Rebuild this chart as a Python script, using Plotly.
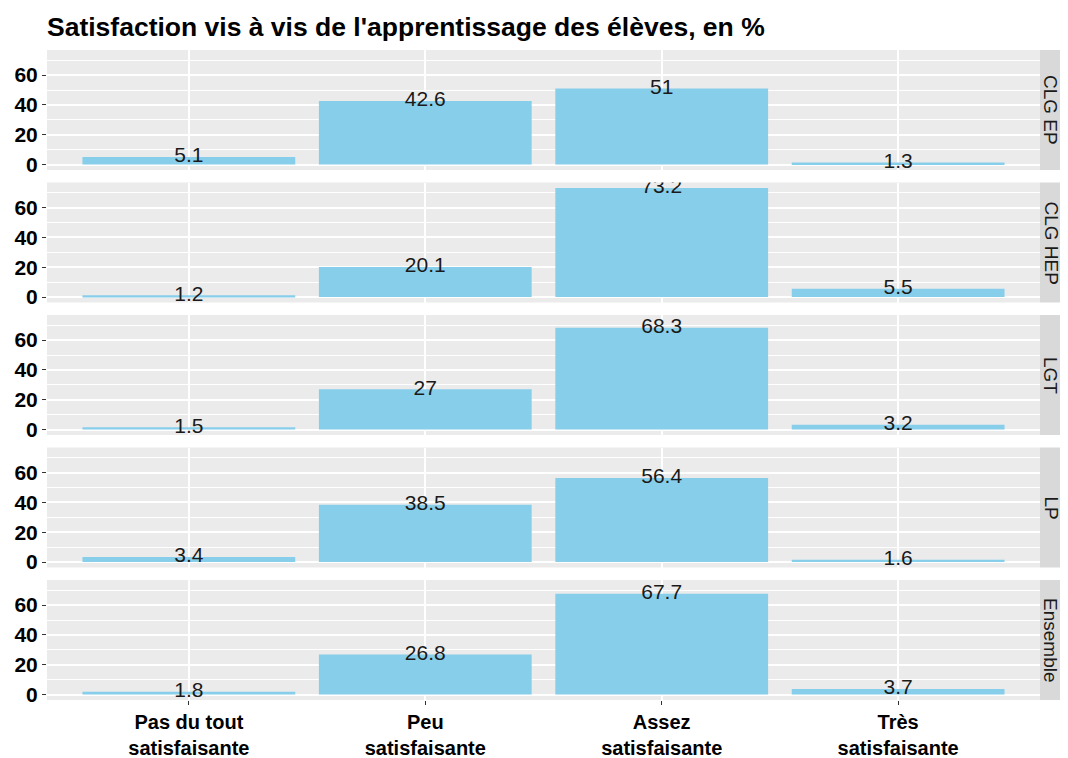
import plotly.graph_objects as go
from plotly.subplots import make_subplots

# categories and facet groups
categories = ["Pas du tout<br>satisfaisante", "Peu<br>satisfaisante",
              "Assez<br>satisfaisante", "Très<br>satisfaisante"]
groups = ["CLG EP", "CLG HEP", "LGT", "LP", "Ensemble"]

# percentages per group, in category order
clg_ep = [5.1, 42.6, 51, 1.3]
clg_hep = [1.2, 20.1, 73.2, 5.5]
lgt = [1.5, 27, 68.3, 3.2]
lp = [3.4, 38.5, 56.4, 1.6]
ensemble = [1.8, 26.8, 67.7, 3.7]

values = [clg_ep, clg_hep, lgt, lp, ensemble]

BAR = "#87CEEB"
PANEL = "#EBEBEB"
STRIP = "#D9D9D9"
FONT = "Liberation Sans"

# page body adds an 8px offset, so the figure is sized 8px smaller
W, H = 1060, 750
L, R, T, B = 39, 28, 42, 58
plot_w = W - L - R
plot_h = H - T - B

fig = make_subplots(rows=5, cols=1, shared_xaxes=True,
                    vertical_spacing=12.5 / plot_h)

ymax = max(max(v) for v in values)
pad = ymax * 0.05
yrange = [-pad, ymax + pad]
strip_w = 22 / plot_w

for i, (g, vals) in enumerate(zip(groups, values), start=1):
    fig.add_trace(go.Bar(x=categories, y=vals, marker_color=BAR,
                         marker_line_width=0, width=0.9,
                         showlegend=False, hoverinfo="skip"), row=i, col=1)
    fig.add_trace(go.Scatter(x=categories, y=vals, mode="text",
                             text=[f"{v:g}" for v in vals],
                             textposition="middle center",
                             textfont=dict(family=FONT, size=21, color="#1a1a1a"),
                             showlegend=False, hoverinfo="skip"), row=i, col=1)
    yref = "y domain" if i == 1 else f"y{i} domain"
    fig.add_shape(type="rect", xref="paper", yref=yref,
                  x0=1.0, x1=1.0 + strip_w, y0=0, y1=1,
                  fillcolor=STRIP, line_width=0, layer="below")
    fig.add_annotation(text=g, xref="paper", yref=yref,
                       x=1.0 + strip_w / 2, y=0.5, showarrow=False, textangle=90,
                       xanchor="center", yanchor="middle",
                       font=dict(family=FONT, size=19, color="#1a1a1a"))

fig.update_xaxes(showgrid=True, gridcolor="white", gridwidth=1.5,
                 range=[-0.6, 3.6], showline=False, zeroline=False,
                 tickfont=dict(family=FONT, size=20, color="black", weight="bold"))
fig.update_xaxes(ticks="outside", ticklen=4, tickcolor="#333333", row=5, col=1)
fig.update_yaxes(range=yrange, tickvals=[0, 20, 40, 60],
                 showgrid=True, gridcolor="white", gridwidth=1.5,
                 minor=dict(tickvals=[10, 30, 50, 70], showgrid=True,
                            gridcolor="white", gridwidth=0.8),
                 zeroline=False, showline=False,
                 ticks="outside", ticklen=4, tickcolor="#333333",
                 tickfont=dict(family=FONT, size=21, color="black", weight="bold"))

fig.update_layout(
    width=W, height=H,
    plot_bgcolor=PANEL, paper_bgcolor="white",
    bargap=0.1,
    margin=dict(l=L, r=R, t=T, b=B, autoexpand=False),
    title=dict(text="Satisfaction vis à vis de l'apprentissage des élèves, en %",
               x=L / W, xanchor="left", y=1 - 19 / H, yanchor="middle",
               font=dict(family=FONT, size=26.5, color="black", weight="bold")),
)

fig.write_html("out.html")
